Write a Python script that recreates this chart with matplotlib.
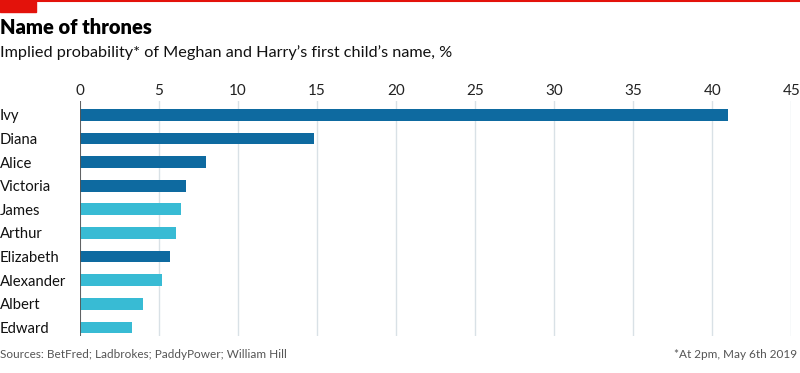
import matplotlib.pyplot as plt
from matplotlib.patches import Rectangle

names = ["Ivy", "Diana", "Alice", "Victoria", "James", "Arthur",
         "Elizabeth", "Alexander", "Albert", "Edward"]
probs = [41.0, 14.8, 8.0, 6.7, 6.4, 6.1, 5.7, 5.2, 4.0, 3.3]
girl = [True, True, True, True, False, False, True, False, False, False]
xticks = [0, 5, 10, 15, 20, 25, 30, 35, 40, 45]

dark_blue = "#0e6aa0"
light_blue = "#38bbd4"
plt.rcParams['font.family'] = ['Lato', 'DejaVu Sans']

fig = plt.figure(figsize=(8, 3.73), dpi=100)
ax = fig.add_axes([0.1, 0.1, 0.889, 0.63])

colors = [dark_blue if g else light_blue for g in girl]
ax.barh(range(len(names)), probs, height=0.5, color=colors, zorder=3)

ax.set_xlim(0, 45)
ax.set_ylim(9.35, -0.6)
ax.set_xticks(xticks)
ax.xaxis.tick_top()
ax.tick_params(axis='x', length=0, pad=2, labelsize=11, labelcolor="#222222")
ax.set_yticks(range(len(names)))
ax.set_yticklabels(names)
ax.tick_params(axis='y', length=0, pad=57.6, labelsize=10.7, labelcolor="#111111")
for lab in ax.get_yticklabels():
    lab.set_ha('left')

ax.grid(axis='x', color="#d9e1e6", linewidth=1, zorder=0)
for s in ax.spines.values():
    s.set_visible(False)
ax.axvline(0, color="#555555", linewidth=1.3, zorder=4)

# top red rule and tag
fig.add_artist(plt.Line2D([0, 1], [0.997, 0.997], color="#e3120b", linewidth=1.5))
fig.add_artist(Rectangle((0, 0.968), 0.045, 0.032, color="#e3120b", transform=fig.transFigure))

fig.text(0.0, 0.925, "Name of thrones", fontsize=14.5, fontweight='heavy', va='center')
fig.text(0.0, 0.858, "Implied probability* of Meghan and Harry\u2019s first child\u2019s name, %",
         fontsize=11.7, va='center', color="#111111")
fig.text(0.0, 0.05, "Sources: BetFred; Ladbrokes; PaddyPower; William Hill",
         fontsize=8.5, va='center', color="#555555")
fig.text(0.997, 0.05, "*At 2pm, May 6th 2019", fontsize=8.5, va='center',
         ha='right', color="#555555")

fig.savefig("out.png", dpi=100)
